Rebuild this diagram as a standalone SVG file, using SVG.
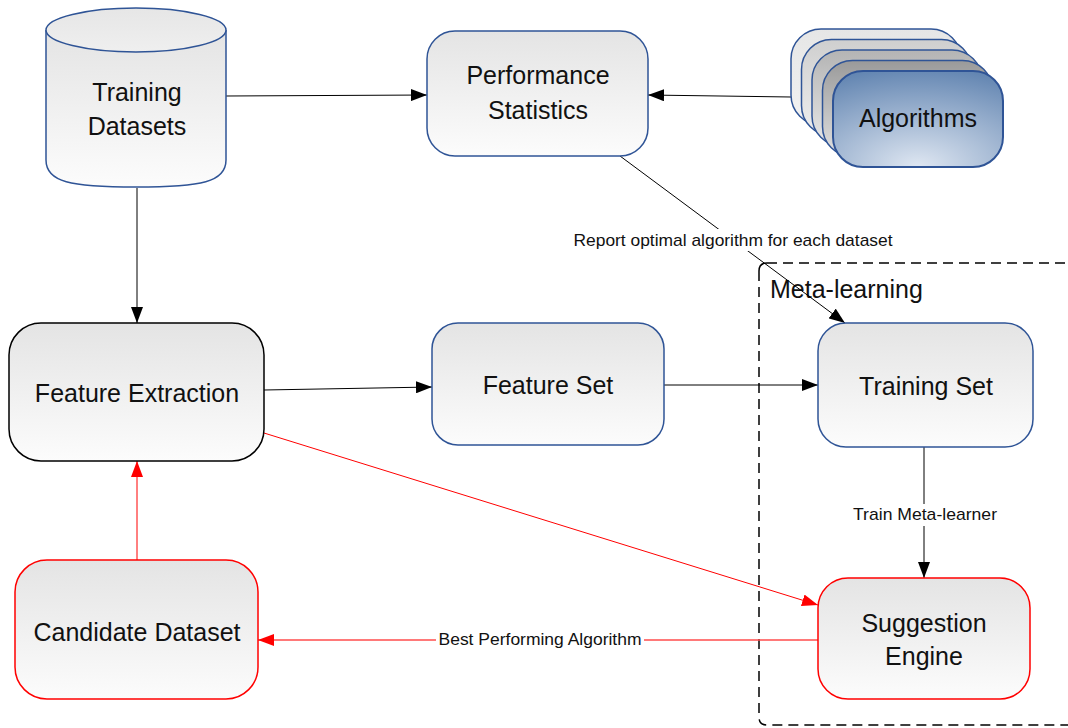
<svg xmlns="http://www.w3.org/2000/svg" width="1068" height="728" viewBox="0 0 1068 728">
<defs>
<style>
.node{font-family:"Liberation Sans",Arial,sans-serif;font-size:25px;fill:#111;text-anchor:middle}
.lbl{font-family:"Liberation Sans",Arial,sans-serif;font-size:17px;fill:#111;text-anchor:middle}
.box{fill:url(#gBox);stroke:#2f5496;stroke-width:1.5}
.red{fill:url(#gBox);stroke:#ff0000;stroke-width:1.5}
.ln{fill:none;stroke:#000;stroke-width:1}
.rln{fill:none;stroke:#ff0000;stroke-width:1}
.back{stroke:#2f5496;stroke-width:1.5}
</style>
<linearGradient id="gBox" x1="0" y1="0" x2="0" y2="1">
<stop offset="0" stop-color="#e4e4e4"/><stop offset="1" stop-color="#fcfcfc"/>
</linearGradient>
<linearGradient id="gTop" x1="0" y1="0" x2="0" y2="1">
<stop offset="0" stop-color="#e6e6e6"/><stop offset="1" stop-color="#efefef"/>
</linearGradient>
<linearGradient id="gB1" x1="0" y1="0" x2="0" y2="1"><stop offset="0" stop-color="#e6e6e6"/><stop offset="1" stop-color="#f2f2f2"/></linearGradient>
<linearGradient id="gB2" x1="0" y1="0" x2="0" y2="1"><stop offset="0" stop-color="#cfcfcf"/><stop offset="1" stop-color="#eeeeee"/></linearGradient>
<linearGradient id="gB3" x1="0" y1="0" x2="0" y2="1"><stop offset="0" stop-color="#b4b4b4"/><stop offset="1" stop-color="#e8e8e8"/></linearGradient>
<linearGradient id="gB4" x1="0" y1="0" x2="0" y2="1"><stop offset="0" stop-color="#9a9a9a"/><stop offset="1" stop-color="#e2e2e2"/></linearGradient>
<radialGradient id="gAlg" cx="0.5" cy="1" r="1.1" fx="0.5" fy="1">
<stop offset="0" stop-color="#dfe7f2"/><stop offset="1" stop-color="#5c80ae"/>
</radialGradient>
<marker id="ah" viewBox="0 0 16 12" refX="16" refY="6" markerWidth="16" markerHeight="12" markerUnits="userSpaceOnUse" orient="auto">
<path d="M0,0 L16,6 L0,12 Z" fill="#000"/>
</marker>
<marker id="ahr" viewBox="0 0 16 12" refX="16" refY="6" markerWidth="16" markerHeight="12" markerUnits="userSpaceOnUse" orient="auto">
<path d="M0,0 L16,6 L0,12 Z" fill="#ff0000"/>
</marker>
</defs>
<rect width="1068" height="728" fill="#fff"/>

<g id="meta-learning">
<path d="M767,263 L1075,263 M759,271 L759,717 Q759,725 767,725 L1075,725" fill="none" stroke="#000" stroke-width="1.5" stroke-dasharray="10,6"/>
<path d="M759,271 Q759,263 767,263" fill="none" stroke="#000" stroke-width="1.5"/>
<text x="770" y="298" class="node" style="text-anchor:start">Meta-learning</text>
</g>

<g id="connectors">
<line x1="226" y1="96" x2="427" y2="95" class="ln" marker-end="url(#ah)"/>
<line x1="791" y1="97" x2="648" y2="95" class="ln" marker-end="url(#ah)"/>
<line x1="620" y1="156" x2="845" y2="323" class="ln" marker-end="url(#ah)"/>
<line x1="137" y1="188" x2="137" y2="323" class="ln" marker-end="url(#ah)"/>
<line x1="264" y1="390" x2="432" y2="387" class="ln" marker-end="url(#ah)"/>
<line x1="664" y1="385" x2="818" y2="385" class="ln" marker-end="url(#ah)"/>
<line x1="924" y1="447" x2="924" y2="578" class="ln" marker-end="url(#ah)"/>
<line x1="264" y1="433" x2="818" y2="605" class="rln" marker-end="url(#ahr)"/>
<line x1="137" y1="560" x2="137" y2="461" class="rln" marker-end="url(#ahr)"/>
<line x1="818" y1="640" x2="258" y2="640" fill="none" stroke="#ff4d4d" stroke-width="1.5" marker-end="url(#ahr)"/>
<rect x="571" y="229" width="323" height="22" fill="#fff"/>
<text x="733" y="246" class="lbl" textLength="319" lengthAdjust="spacingAndGlyphs">Report optimal algorithm for each dataset</text>
<rect x="851" y="504" width="148" height="22" fill="#fff"/>
<text x="925" y="520" class="lbl" textLength="144" lengthAdjust="spacingAndGlyphs">Train Meta-learner</text>
<rect x="436" y="629" width="208" height="22" fill="#fff"/>
<text x="540" y="645" class="lbl" textLength="203" lengthAdjust="spacingAndGlyphs">Best Performing Algorithm</text>
</g>

<g id="training-datasets">
<path d="M46,30 L46,160 C46,182 70,187 136,187 C202,187 226,182 226,160 L226,30" fill="url(#gBox)" stroke="#2f5496" stroke-width="1.5"/>
<ellipse cx="136" cy="30" rx="90" ry="22" fill="url(#gTop)" stroke="#2f5496" stroke-width="1.5"/>
<text x="137" y="101" class="node">Training</text>
<text x="137" y="135" class="node">Datasets</text>
</g>

<g id="performance-statistics">
<rect x="427" y="31" width="221" height="125" rx="28" class="box"/>
<text x="538" y="84" class="node">Performance</text>
<text x="538" y="119" class="node">Statistics</text>
</g>

<g id="algorithms">
<rect x="791" y="29" width="170" height="96" rx="30" fill="url(#gB1)" class="back"/>
<rect x="801.5" y="39.5" width="170" height="96" rx="30" fill="url(#gB2)" class="back"/>
<rect x="812" y="50" width="170" height="96" rx="30" fill="url(#gB3)" class="back"/>
<rect x="822.5" y="60.5" width="170" height="96" rx="30" fill="url(#gB4)" class="back"/>
<rect x="833" y="71" width="170" height="96" rx="30" fill="url(#gAlg)" stroke="#2f5496" stroke-width="2"/>
<text x="918" y="127" class="node">Algorithms</text>
</g>

<g id="feature-extraction">
<rect x="9" y="323" width="255" height="138" rx="32" fill="url(#gBox)" stroke="#000" stroke-width="1.5"/>
<text x="137" y="402" class="node">Feature Extraction</text>
</g>

<g id="feature-set">
<rect x="432" y="323" width="232" height="122" rx="26" class="box"/>
<text x="548" y="394" class="node">Feature Set</text>
</g>

<g id="training-set">
<rect x="818" y="323" width="215" height="124" rx="28" class="box"/>
<text x="926" y="395" class="node">Training Set</text>
</g>

<g id="suggestion-engine">
<rect x="818" y="578" width="212" height="121" rx="30" class="red"/>
<text x="924" y="632" class="node">Suggestion</text>
<text x="924" y="665" class="node">Engine</text>
</g>

<g id="candidate-dataset">
<rect x="15" y="560" width="243" height="139" rx="32" class="red"/>
<text x="137" y="641" class="node">Candidate Dataset</text>
</g>
</svg>
